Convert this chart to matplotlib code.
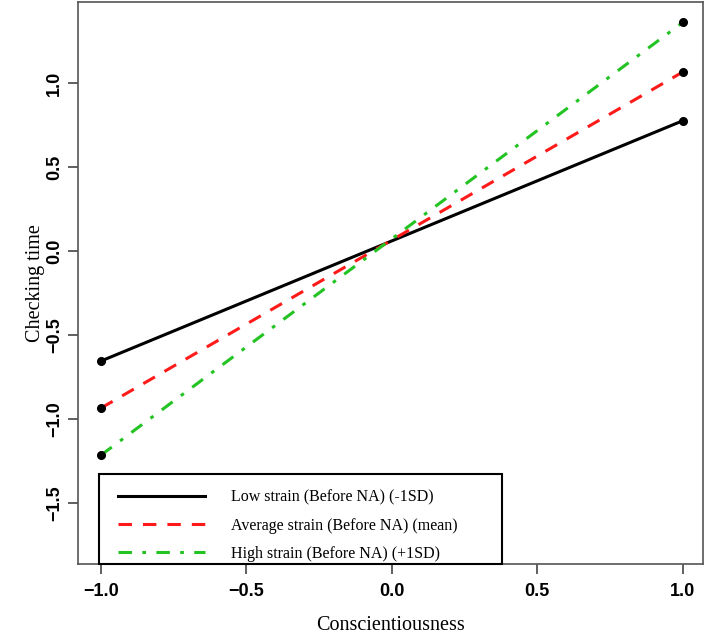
import numpy as np
import matplotlib
matplotlib.use("Agg")
import matplotlib.pyplot as plt
from matplotlib.legend_handler import HandlerLine2D

# simple slopes: conscientiousness (-1SD / +1SD) x strain level
x_vals = [-1.0, 1.0]
low_strain = [-0.655, 0.775]
avg_strain = [-0.935, 1.065]
high_strain = [-1.215, 1.36]

labels = ["Low strain (Before NA) (-1SD)",
          "Average strain (Before NA) (mean)",
          "High strain (Before NA) (+1SD)"]
xticks = [-1.0, -0.5, 0.0, 0.5, 1.0]
yticks = [-1.5, -1.0, -0.5, 0.0, 0.5, 1.0]

SERIF = "Liberation Serif"
SANS = "Liberation Sans"

fig = plt.figure(figsize=(7.09, 6.37), dpi=100)
ax = fig.add_axes([77.7/709, (637-564)/637, (703-77.7)/709, (564-2)/637])

lw = 2.2
ax.plot(x_vals, low_strain, color="black", lw=lw, ls="-", label=labels[0], zorder=2)
ax.plot(x_vals, avg_strain, color="#FF1A1A", lw=lw, ls=(0, (4.4, 3.6)), label=labels[1], zorder=2)
ax.plot(x_vals, high_strain, color="#22C322", lw=lw, ls=(0, (4.4, 3.4, 1.2, 3.4)), label=labels[2], zorder=2)
for ys in (low_strain, avg_strain, high_strain):
    ax.plot(x_vals, ys, ls="none", marker="o", ms=5.5, color="black", zorder=3)

ax.set_xlim(-1.08, 1.07)
ax.set_ylim(-1.863, 1.482)
ax.set_xticks(xticks)
ax.set_yticks(yticks)
ax.set_xticklabels([f"{v:.1f}".replace("-", "\u2212") for v in xticks],
                   fontfamily=SANS, fontweight="bold", fontsize=13)
ax.set_yticklabels([f"{v:.1f}".replace("-", "\u2212") for v in yticks],
                   fontfamily=SANS, fontweight="bold", fontsize=13,
                   rotation=90, va="center")
ax.tick_params(axis="both", length=7.5, width=1.2, color="#444444")
ax.tick_params(axis="x", pad=6)
ax.tick_params(axis="y", pad=3)
for sp in ax.spines.values():
    sp.set_color("#555555")
    sp.set_linewidth(1.2)

ax.set_xlabel("Conscientiousness", fontfamily=SERIF, fontsize=14.5, labelpad=12)
ax.set_ylabel("Checking time", fontfamily=SERIF, fontsize=14.5, labelpad=1)

# empty tiny title pushes the rows down a bit (R legend has more room on top)
hl = HandlerLine2D(xpad=1.06)
leg = ax.legend(loc="lower left", bbox_to_anchor=(21/625.3, 0.0, (502-98.7)/625.3, 0.2),
                mode="expand", prop={"family": SERIF, "size": 11.5},
                title=" ", title_fontsize=1,
                handlelength=6.5, handletextpad=1.63, labelspacing=0.75,
                borderpad=0.15, borderaxespad=0.0, fancybox=False,
                edgecolor="black", framealpha=1.0,
                handler_map={l: hl for l in ax.get_lines()[:3]})
leg.get_frame().set_linewidth(1.5)

fig.savefig("out.png", dpi=100)
